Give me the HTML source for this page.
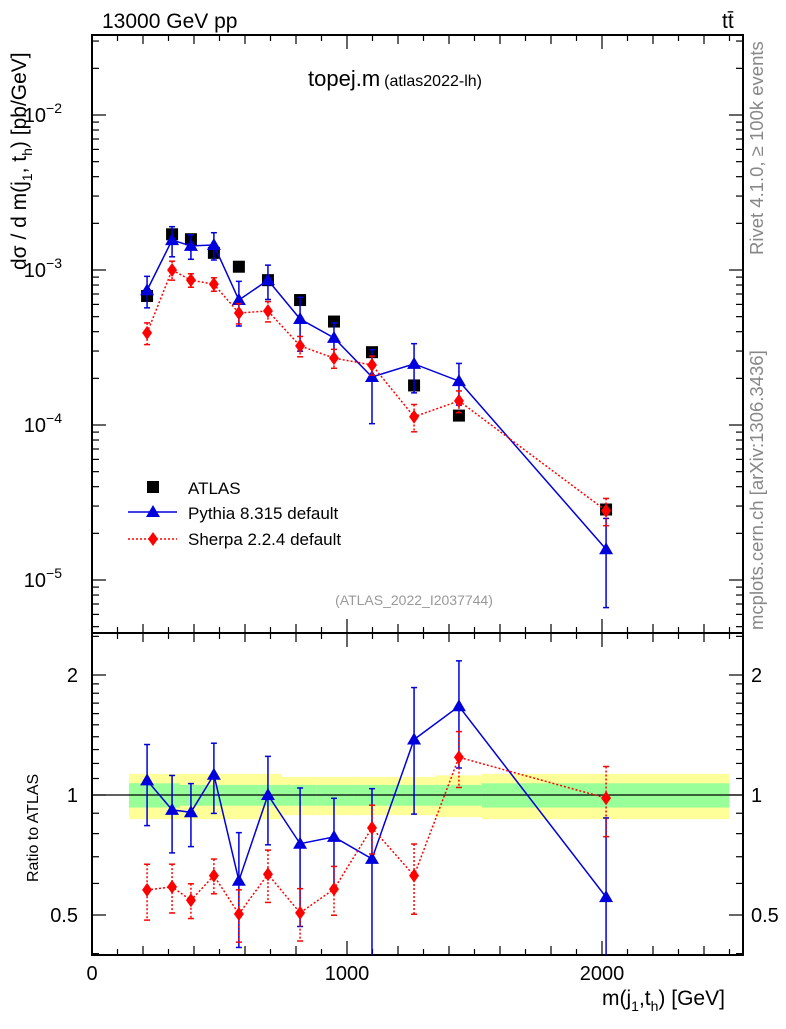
<!DOCTYPE html>
<html><head><meta charset="utf-8"><style>
body{margin:0;background:#fff;width:786px;height:1024px;overflow:hidden}
svg{font-family:"Liberation Sans",sans-serif}
</style></head><body>
<svg id="c" width="786" height="1024"></svg>
<script>
const xs=[216,314,388,478,576,690,816,949,1098,1263,1439,2016];
const atlas=[6.8e-4,1.7e-3,1.58e-3,1.29e-3,1.05e-3,8.6e-4,6.4e-4,4.65e-4,2.95e-4,1.8e-4,1.15e-4,2.85e-5];
const pythia=[7.4e-4,1.56e-3,1.43e-3,1.45e-3,6.4e-4,8.6e-4,4.83e-4,3.65e-4,2.04e-4,2.48e-4,1.92e-4,1.58e-5];
const pythiaErr=[0.23,0.22,0.18,0.2,0.32,0.25,0.38,0.25,0.5,0.35,0.3,0.58];
const sherpa=[3.93e-4,1.0e-3,8.6e-4,8.1e-4,5.28e-4,5.44e-4,3.24e-4,2.7e-4,2.44e-4,1.13e-4,1.43e-4,2.8e-5];
const sherpaErr=[0.16,0.14,0.1,0.1,0.15,0.15,0.15,0.14,0.14,0.2,0.16,0.2];
const bandEdges=[145,345,745,882,1027,1176,1345,1529,2500];
const bandGreen=[0.07,0.06,0.06,0.06,0.06,0.06,0.06,0.07];
const bandYellow=[0.13,0.13,0.11,0.11,0.11,0.11,0.12,0.13];
const yTicks=[-5,-4,-3,-2];
const rTicks=[0.5,1,2];
const xTicks=[0,1000,2000];

const S=document.getElementById('c');const NS='http://www.w3.org/2000/svg';
function el(t,a,p){const e=document.createElementNS(NS,t);for(const k in a)e.setAttribute(k,a[k]);(p||S).appendChild(e);return e;}
const L=92,R=743,T=35,M=633,B=955;
const X=v=>L+v*0.255;
const Y=v=>270-(Math.log10(v)+3)*155;
const RY=v=>795-Math.log2(v)*120;
const gb=el('g',{});
for(let i=0;i<bandGreen.length;i++){
 const x1=X(bandEdges[i]),x2=X(bandEdges[i+1]);
 el('rect',{x:x1,y:RY(1+bandYellow[i]),width:x2-x1,height:RY(1-bandYellow[i])-RY(1+bandYellow[i]),fill:'#ffff99'},gb);
 el('rect',{x:x1,y:RY(1+bandGreen[i]),width:x2-x1,height:RY(1-bandGreen[i])-RY(1+bandGreen[i]),fill:'#99ff99'},gb);
}
el('line',{x1:L,x2:R,y1:RY(1),y2:RY(1),stroke:'#000','stroke-width':1.3});
const f1=el('rect',{x:L,y:T,width:R-L,height:M-T,fill:'none',stroke:'#000','stroke-width':2});

const f2=el('rect',{x:L,y:M,width:R-L,height:B-M,fill:'none',stroke:'#000','stroke-width':2});

for(let v=0;v<=2500;v+=100){const x=X(v);const len=v%1000==0?14:(v%200==0?9:6);
 for(const [y0,d] of [[T,1],[M,-1],[M,1],[B,-1]]) el('line',{x1:x,x2:x,y1:y0,y2:y0+d*len,stroke:'#000','stroke-width':1.2});}
xTicks.forEach(v=>{const t=el('text',{x:X(v),y:980,'font-size':20,'text-anchor':'middle'});t.textContent=v;});
for(let d=-6;d<=-1;d++)for(let m=1;m<=9;m++){const v=m*Math.pow(10,d);const y=Y(v);if(y<T||y>M)continue;const len=m==1?14:7;
 el('line',{x1:L,x2:L+len,y1:y,y2:y,stroke:'#000','stroke-width':1.2});el('line',{x1:R,x2:R-len,y1:y,y2:y,stroke:'#000','stroke-width':1.2});}
yTicks.forEach(d=>{const t=el('text',{x:62,y:Y(Math.pow(10,d))+7,'font-size':20,'text-anchor':'end'});t.textContent='10';
 const s=el('tspan',{dy:-9,'font-size':14},t);s.textContent='\u2212'+(-d);});
[0.4,0.5,0.6,0.7,0.8,0.9,1,1.1,1.2,1.3,1.4,1.5,1.6,1.7,1.8,1.9,2,2.5].forEach(v=>{const y=RY(v);if(y<M||y>B)return;const len=(v==0.5||v==1||v==2)?14:7;
 el('line',{x1:L,x2:L+len,y1:y,y2:y,stroke:'#000','stroke-width':1.2});el('line',{x1:R,x2:R-len,y1:y,y2:y,stroke:'#000','stroke-width':1.2});});
rTicks.forEach(v=>{const t=el('text',{x:78,y:RY(v)+7,'font-size':20,'text-anchor':'end'});t.textContent=v;
 const t2=el('text',{x:751,y:RY(v)+7,'font-size':20});t2.textContent=v;});
function marker(type,x,y,col,g){
 if(type=='tri')el('path',{d:`M${x},${y-7}L${x+7},${y+5}L${x-7},${y+5}Z`,fill:col},g);
 else if(type=='dia')el('path',{d:`M${x},${y-7}L${x+5},${y}L${x},${y+7}L${x-5},${y}Z`,fill:col},g);
 else el('rect',{x:x-6,y:y-6,width:12,height:12,fill:col},g);}
function series(vals,errs,col,type,dash,ratio,name){
 const g=el('g',{});
 const yf=ratio?(i=>RY(vals[i]/atlas[i])):(i=>Y(vals[i]));
 const pts=xs.map((x,i)=>X(x)+','+yf(i)).join(' ');
 el('polyline',{points:pts,fill:'none',stroke:col,'stroke-width':1.5,'stroke-dasharray':dash},g);
 xs.forEach((x,i)=>{const v=ratio?vals[i]/atlas[i]:vals[i];const f=ratio?RY:Y;
  const lo=ratio?M:T,hi=ratio?B:M;
  let y1=f(v*(1+errs[i])),y2=f(Math.max(v*(1-errs[i]),1e-9));
  const c1=y1>=lo,c2=y2<=hi;y1=Math.max(y1,lo);y2=Math.min(y2,hi);
  const cx=X(x);
  el('line',{x1:cx,x2:cx,y1:y1,y2:y2,stroke:col,'stroke-width':1.5,'stroke-dasharray':dash},g);
  if(c1)el('line',{x1:cx-3,x2:cx+3,y1:y1,y2:y1,stroke:col,'stroke-width':1.5},g);
  if(c2)el('line',{x1:cx-3,x2:cx+3,y1:y2,y2:y2,stroke:col,'stroke-width':1.5},g);
  marker(type,cx,yf(i),col,g);});
}
const ga=el('g',{});
xs.forEach((x,i)=>marker('sq',X(x),Y(atlas[i]),'#000',ga));
series(pythia,pythiaErr,'#0000dd','tri','',false,'pythia-series');
series(sherpa,sherpaErr,'#ff0000','dia','2,2',false,'sherpa-series');
series(pythia,pythiaErr,'#0000dd','tri','',true,'pythia-ratio');
series(sherpa,sherpaErr,'#ff0000','dia','2,2',true,'sherpa-ratio');
function txt(s,a,name){const t=el('text',a);t.textContent=s;return t;}
txt('13000 GeV pp',{x:102,y:28,'font-size':21},'energy-label');
txt('tt\u0304',{x:722,y:28,'font-size':21},'process-label');
const tt=txt('topej.m',{x:308,y:86,'font-size':22},'plot-title');const ts=el('tspan',{'font-size':16,dx:4},tt);ts.textContent='(atlas2022-lh)';
txt('(ATLAS_2022_I2037744)',{x:414,y:605,'font-size':14,fill:'#999','text-anchor':'middle'},'analysis-id');
txt('Rivet 4.1.0, \u2265 100k events',{x:0,y:0,'font-size':18.5,fill:'#888',transform:'translate(763,255) rotate(-90)'},'rivet-label');
txt('mcplots.cern.ch [arXiv:1306.3436]',{x:0,y:0,'font-size':18.5,fill:'#888',transform:'translate(763,630) rotate(-90)'},'mcplots-label');
const yl=txt('d\u03c3 / d m(j',{x:0,y:0,'font-size':21,transform:'translate(26,270) rotate(-90)'},'y-axis-title');
[['1',6],[', t',-6],['h',6],[') [pb/GeV]',-6]].forEach(([s,d])=>{const sp=el('tspan',{dy:d,'font-size':d>0?14:21},yl);sp.textContent=s;});
txt('Ratio to ATLAS',{x:0,y:0,'font-size':16,transform:'translate(38,882) rotate(-90)'},'ratio-axis-title');
const xl=txt('m(j',{x:602,y:1005,'font-size':21},'x-axis-title');
[['1',6],[',t',-6],['h',6],[') [GeV]',-6]].forEach(([s,d])=>{const sp=el('tspan',{dy:d,'font-size':d>0?14:21},xl);sp.textContent=s;});
const lg=el('g',{});
marker('sq',153,487,'#000',lg);txt('ATLAS',{x:188,y:494,'font-size':17},'legend-atlas');
el('line',{x1:128,x2:177,y1:512,y2:512,stroke:'#0000dd','stroke-width':1.5},lg);marker('tri',153,512,'#0000dd',lg);
txt('Pythia 8.315 default',{x:188,y:519,'font-size':17},'legend-pythia');
el('line',{x1:128,x2:177,y1:539,y2:539,stroke:'#ff0000','stroke-width':1.5,'stroke-dasharray':'2,2'},lg);marker('dia',153,539,'#ff0000',lg);
txt('Sherpa 2.2.4 default',{x:188,y:545,'font-size':17},'legend-sherpa');
</script>
</body></html>
